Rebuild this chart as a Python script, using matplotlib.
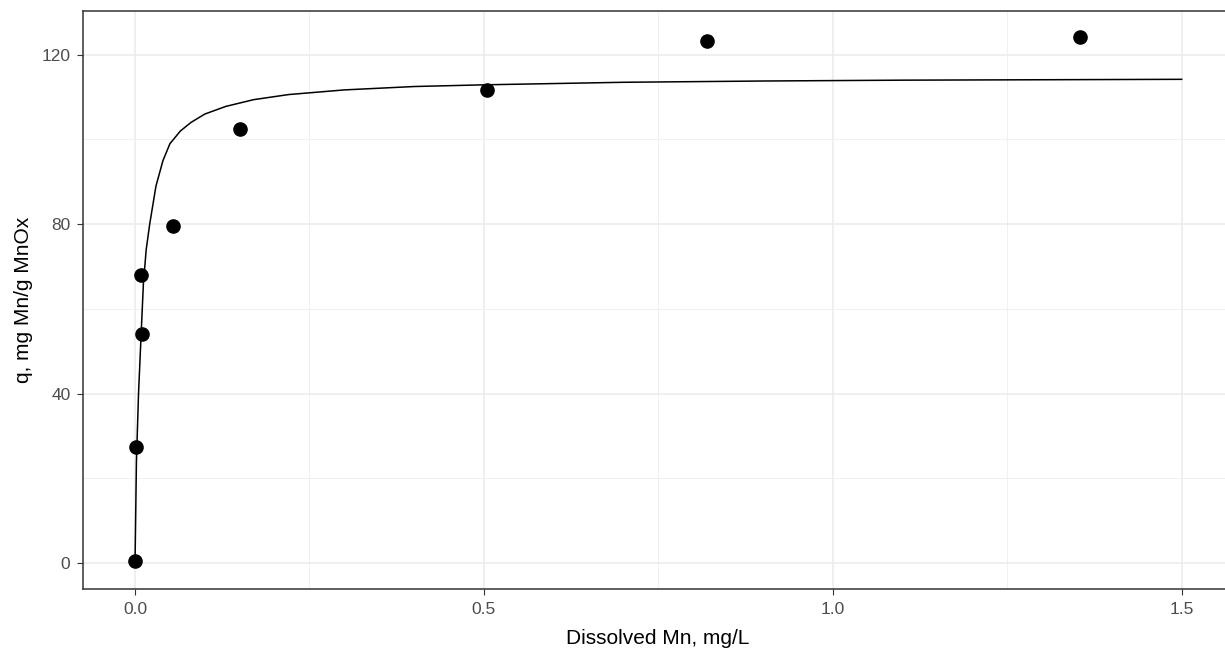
## ============================================================
## Langmuir 등온흡착 그래프 재현 (Dissolved Mn vs q)
## ============================================================
import matplotlib
matplotlib.use("Agg")
import matplotlib.pyplot as plt
from matplotlib.ticker import MultipleLocator

## ------------------------------------------------------------
## 데이터
## ------------------------------------------------------------
# 측정점 : 용존 Mn (mg/L), 흡착량 q (mg Mn/g MnOx)
mn_obs = [0.000, 0.002, 0.008, 0.010, 0.055, 0.151, 0.505, 0.820, 1.355]
q_obs  = [0.5, 27.3, 68.1, 54.1, 79.5, 102.4, 111.6, 123.2, 124.1]

# 적합 곡선 (그림에서 읽은 점들)
mn_fit = [0.000, 0.002, 0.005, 0.009, 0.012, 0.016, 0.021, 0.030, 0.040,
          0.050, 0.065, 0.080, 0.100, 0.130, 0.170, 0.220, 0.300, 0.400,
          0.500, 0.700, 0.900, 1.100, 1.300, 1.500]
q_fit  = [0.0, 24.0, 40.0, 55.0, 66.0, 74.0, 80.0, 89.0, 95.0,
          99.0, 102.0, 104.0, 106.0, 107.8, 109.4, 110.6, 111.7, 112.5,
          112.9, 113.5, 113.8, 114.0, 114.1, 114.2]

x_ticks = [0.0, 0.5, 1.0, 1.5]
y_ticks = [0, 40, 80, 120]

## ------------------------------------------------------------
## 그래프 공통 설정
## ------------------------------------------------------------
plt.rcParams['font.family'] = ['Liberation Sans', 'DejaVu Sans']

W, H = 1225, 650
fig = plt.figure(figsize=(W / 100, H / 100), dpi=100)

# 패널 위치 (픽셀 기준 -> 비율) : 오른쪽은 그림 밖으로 살짝 잘림
left, right, top, bottom = 82.7, 1234.0, 10.7, 589.3
pw, ph = right - left, bottom - top
ax = fig.add_axes([left / W, 1 - bottom / H, pw / W, ph / H])

# 곡선 + 측정점
ax.plot(mn_fit, q_fit, color='black', lw=1.1, zorder=3)
ax.plot(mn_obs, q_obs, 'o', color='black', ms=9.5, zorder=4)

# 축 범위 (ggplot 기본 5% 확장)
ax.set_xlim(-0.075, 1.575)
ax.set_ylim(-6.2, 130.4)

ax.set_xticks(x_ticks)
ax.set_xticklabels([f'{v:.1f}' for v in x_ticks])
ax.set_yticks(y_ticks)
ax.xaxis.set_minor_locator(MultipleLocator(0.25))
ax.yaxis.set_minor_locator(MultipleLocator(20))

# 격자 (theme_bw 스타일)
ax.grid(which='major', color='#EBEBEB', lw=1.1)
ax.grid(which='minor', color='#F0F0F0', lw=0.7)
ax.set_axisbelow(True)

for sp in ax.spines.values():
    sp.set_color('#333333')
    sp.set_linewidth(1.1)

ax.tick_params(which='major', length=4.3, width=0.8, color='#333333',
               labelcolor='#4D4D4D', labelsize=12.5, pad=4.5)
ax.tick_params(which='minor', length=0)

# 축 제목
ax.set_xlabel('Dissolved Mn, mg/L', fontsize=15, color='black', va='center')
ax.set_ylabel('q, mg Mn/g MnOx', fontsize=15, color='black', va='center', ha='center')
ax.xaxis.set_label_coords((658 - left) / pw, -(638 - bottom) / ph)
ax.yaxis.set_label_coords((24 - left) / pw, 0.5)

fig.savefig('out.png', dpi=100)
